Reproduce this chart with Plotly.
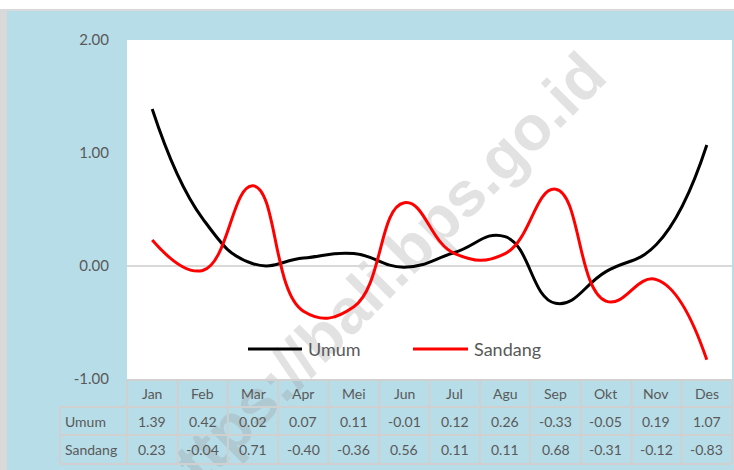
import plotly.graph_objects as go

# ---------------- data ----------------
MONTHS = ["Jan", "Feb", "Mar", "Apr", "Mei", "Jun", "Jul", "Agu", "Sep", "Okt", "Nov", "Des"]
UMUM = [1.39, 0.42, 0.02, 0.07, 0.11, -0.01, 0.12, 0.26, -0.33, -0.05, 0.19, 1.07]
SANDANG = [0.23, -0.04, 0.71, -0.40, -0.36, 0.56, 0.11, 0.11, 0.68, -0.31, -0.12, -0.83]
SERIES = [("Umum", UMUM, "#000000"), ("Sandang", SANDANG, "#FF0000")]
Y_TICKS = [-1, 0, 1, 2]
WATERMARK = "https://bali.bps.go.id"

# ---------------- style ----------------
W, H = 734, 470
L, R, T, B = 127, 2, 40, 91
BLUE = "#B7DDE8"
GRID = "#D0D0D0"
TXT = "#595959"
FONT = "Lato, Open Sans, sans-serif"

PW, PH = W - L - R, H - T - B


def px_x(px):  # pixel -> paper x
    return (px - L) / PW


def px_y(py):  # pixel -> paper y
    return (H - B - py) / PH


fig = go.Figure()
xs = list(range(len(MONTHS)))
for name, vals, col in SERIES:
    fig.add_trace(go.Scatter(
        x=xs, y=vals, name=name, mode="lines", showlegend=False,
        line=dict(color=col, width=3, shape="spline", smoothing=1.3),
    ))

fig.update_layout(
    width=W, height=H,
    margin=dict(l=L, r=R, t=T, b=B),
    paper_bgcolor=BLUE,
    plot_bgcolor="rgba(0,0,0,0)",
    font=dict(family=FONT, color=TXT),
)
fig.update_xaxes(range=[-0.5, len(MONTHS) - 0.5], showticklabels=False,
                 showgrid=False, zeroline=False, showline=False)
fig.update_yaxes(range=[-1, 2], tickvals=Y_TICKS,
                 ticktext=[f"{v:.2f}" for v in Y_TICKS],
                 tickfont=dict(size=15, color=TXT), ticklabelstandoff=17,
                 showgrid=False, zeroline=True, zerolinecolor="#D9D9D9",
                 zerolinewidth=2, showline=False)

shapes = []
# outer frame: white strip on top, grey border lines
shapes.append(dict(type="rect", xref="paper", yref="paper", x0=px_x(0), x1=px_x(W),
                   y0=px_y(9), y1=px_y(0), fillcolor="white", line_width=0, layer="below"))
shapes.append(dict(type="rect", xref="paper", yref="paper", x0=px_x(0), x1=px_x(W),
                   y0=px_y(11), y1=px_y(9), fillcolor="#D9D9D9", line_width=0, layer="below"))
shapes.append(dict(type="rect", xref="paper", yref="paper", x0=px_x(0), x1=px_x(7),
                   y0=px_y(H), y1=px_y(9), fillcolor="#D9D9D9", line_width=0, layer="below"))
# white plot area
shapes.append(dict(type="rect", xref="paper", yref="paper", x0=0, x1=1, y0=0, y1=1,
                   fillcolor="white", line_width=0, layer="below"))
# watermark (under the lines)
wx, wy = 372, 277
shapes.append(dict(type="rect", xref="paper", yref="paper",
                   x0=px_x(wx - 1), x1=px_x(wx + 1), y0=px_y(wy + 1), y1=px_y(wy - 1),
                   line_width=0, fillcolor="rgba(0,0,0,0)", layer="below",
                   label=dict(text="<b>" + WATERMARK + "</b>", textangle=-45,
                              textposition="middle center",
                              font=dict(size=63, family="Liberation Sans, Arial, sans-serif",
                                        color="rgba(150,150,150,0.28)"))))

# data table grid
n = len(MONTHS)
row_tops = [380, 407, 435, 464]
lab_left = px_x(60)
for i in range(n + 1):
    shapes.append(dict(type="line", xref="paper", yref="paper", x0=i / n, x1=i / n,
                       y0=px_y(row_tops[0]), y1=px_y(row_tops[-1]),
                       line=dict(color=GRID, width=2)))
shapes.append(dict(type="line", xref="paper", yref="paper", x0=lab_left, x1=lab_left,
                   y0=px_y(row_tops[1]), y1=px_y(row_tops[-1]),
                   line=dict(color=GRID, width=2)))
shapes.append(dict(type="line", xref="paper", yref="paper", x0=0, x1=1,
                   y0=px_y(row_tops[0]), y1=px_y(row_tops[0]),
                   line=dict(color=GRID, width=2)))
for yy in row_tops[1:]:
    shapes.append(dict(type="line", xref="paper", yref="paper", x0=lab_left, x1=1,
                       y0=px_y(yy), y1=px_y(yy), line=dict(color=GRID, width=2)))

annos = []
row_mid = [(row_tops[k] + row_tops[k + 1]) / 2 for k in range(3)]
for i, m in enumerate(MONTHS):
    annos.append(dict(x=i, y=px_y(row_mid[0]), xref="x", yref="paper", text=m,
                      xanchor="center", yanchor="middle",
                      showarrow=False, font=dict(size=14, color=TXT)))
for k, (name, vals, _) in enumerate(SERIES):
    yv = px_y(row_mid[k + 1])
    annos.append(dict(x=px_x(63), y=yv, xref="paper", yref="paper", text=name,
                      xanchor="left", yanchor="middle",
                      showarrow=False, font=dict(size=14, color=TXT)))
    for i, v in enumerate(vals):
        annos.append(dict(x=i, y=yv, xref="x", yref="paper", text=f"{v:.2f}",
                          xanchor="center", yanchor="middle",
                          showarrow=False, font=dict(size=14, color=TXT)))

# legend (drawn by hand to get the long line samples)
leg_y = px_y(349)
for (name, _, col), (x0, x1) in zip(SERIES, [(248, 302), (413, 468)]):
    shapes.append(dict(type="line", xref="paper", yref="paper", x0=px_x(x0), x1=px_x(x1),
                       y0=leg_y, y1=leg_y, line=dict(color=col, width=3)))
    annos.append(dict(x=px_x(x1 + 4), y=leg_y, xref="paper", yref="paper", text=name,
                      xanchor="left", yanchor="middle",
                      showarrow=False, font=dict(size=18, color=TXT)))

fig.update_layout(shapes=shapes, annotations=annos)
fig.write_html("out.html", config={"displayModeBar": False},
               post_script="document.body.style.margin='0';")
